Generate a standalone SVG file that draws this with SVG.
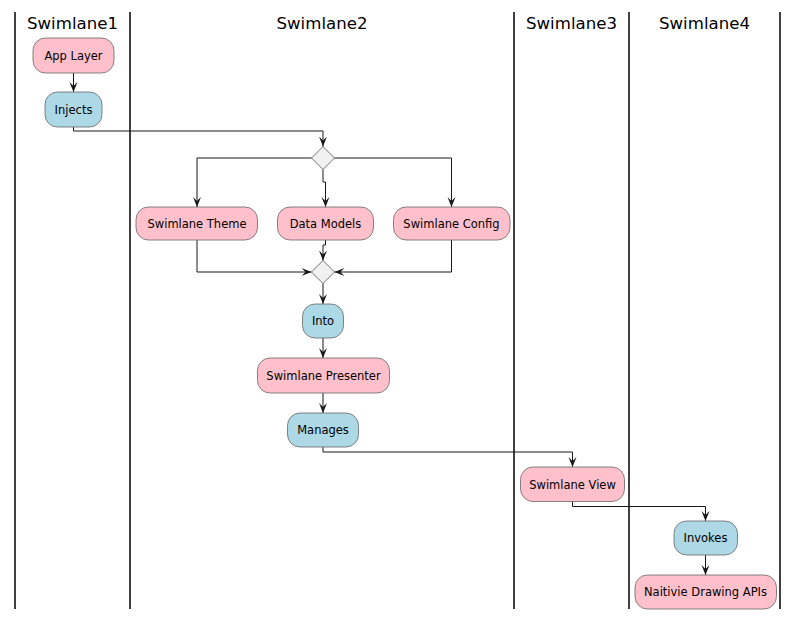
<svg xmlns="http://www.w3.org/2000/svg" width="799" height="620" viewBox="0 0 799 620">
<style>
.lane{stroke:#000;stroke-width:1.5;}
.title{font-family:"DejaVu Sans",sans-serif;font-size:16.6px;fill:#000;text-anchor:middle;}
.pink{fill:#FFC0CB;stroke:#666;stroke-width:0.8;}
.blue{fill:#ADD8E6;stroke:#666;stroke-width:0.8;}
.dia{fill:#F1F1F1;stroke:#181818;stroke-width:0.6;}
.lbl{font-family:"DejaVu Sans",sans-serif;font-size:11.5px;fill:#000;text-anchor:middle;}
.c{fill:none;stroke:#181818;stroke-width:1;marker-end:url(#ah);}
</style>
<defs>
<marker id="ah" markerWidth="12" markerHeight="10" refX="10" refY="5" orient="auto" markerUnits="userSpaceOnUse" viewBox="0 0 12 10">
<polygon points="0,1 10,5 0,9 4,5" fill="#181818"/>
</marker>
</defs>
<rect width="799" height="620" fill="#fff"/>
<g id="lanes">
<line class="lane" x1="15" y1="12" x2="15" y2="609"/>
<line class="lane" x1="130" y1="12" x2="130" y2="609"/>
<line class="lane" x1="514" y1="12" x2="514" y2="609"/>
<line class="lane" x1="629" y1="12" x2="629" y2="609"/>
<line class="lane" x1="780" y1="12" x2="780" y2="609"/>
<text class="title" x="72.5" y="29">Swimlane1</text>
<text class="title" x="322" y="29">Swimlane2</text>
<text class="title" x="571.5" y="29">Swimlane3</text>
<text class="title" x="704.5" y="29">Swimlane4</text>
</g>
<g id="connectors">
<path class="c" d="M73.5,73 V92"/>
<path class="c" d="M73.5,127 V131 H323 V146.5"/>
<path class="c" d="M311.5,158 H197 V207"/>
<path class="c" d="M323,169.5 V182 H325.5 V207"/>
<path class="c" d="M334.5,158 H451.5 V207"/>
<path class="c" d="M197,240 V272 H311.5"/>
<path class="c" d="M325.5,240 V245 H323 V260.5"/>
<path class="c" d="M451.5,240 V272 H334.5"/>
<path class="c" d="M323,283.5 V304"/>
<path class="c" d="M323,338 V358"/>
<path class="c" d="M323,393 V413"/>
<path class="c" d="M323,447 V452 H572.5 V467"/>
<path class="c" d="M572.5,501.5 V506.5 H705.5 V521"/>
<path class="c" d="M705.5,555 V575"/>
</g>
<g id="n-applayer"><rect class="pink" x="33" y="38" width="81" height="35" rx="12.5"/><text class="lbl" x="73.5" y="59.5">App Layer</text></g>
<g id="n-injects"><rect class="blue" x="45" y="92" width="57" height="35" rx="12.5"/><text class="lbl" x="73.5" y="113.5">Injects</text></g>
<g id="d-fork"><polygon class="dia" points="323,146.5 334.5,158 323,169.5 311.5,158"/></g>
<g id="n-theme"><rect class="pink" x="136" y="207" width="121.5" height="33" rx="12.5"/><text class="lbl" x="197" y="227.5">Swimlane Theme</text></g>
<g id="n-models"><rect class="pink" x="277.5" y="207" width="96" height="33" rx="12.5"/><text class="lbl" x="325.5" y="227.5">Data Models</text></g>
<g id="n-config"><rect class="pink" x="393.5" y="207" width="116.5" height="33" rx="12.5"/><text class="lbl" x="451.5" y="227.5">Swimlane Config</text></g>
<g id="d-merge"><polygon class="dia" points="323,260.5 334.5,272 323,283.5 311.5,272"/></g>
<g id="n-into"><rect class="blue" x="302.5" y="304" width="41" height="34" rx="12.5"/><text class="lbl" x="323" y="325">Into</text></g>
<g id="n-presenter"><rect class="pink" x="257.5" y="358" width="132" height="35" rx="12.5"/><text class="lbl" x="323.5" y="379.5">Swimlane Presenter</text></g>
<g id="n-manages"><rect class="blue" x="287.5" y="413" width="71" height="34" rx="12.5"/><text class="lbl" x="323" y="434">Manages</text></g>
<g id="n-view"><rect class="pink" x="520.5" y="467" width="104" height="34.5" rx="12.5"/><text class="lbl" x="572.5" y="488.5">Swimlane View</text></g>
<g id="n-invokes"><rect class="blue" x="674" y="521" width="63.5" height="34" rx="12.5"/><text class="lbl" x="705.5" y="542">Invokes</text></g>
<g id="n-native"><rect class="pink" x="635" y="575" width="141.5" height="34" rx="12.5"/><text class="lbl" x="705.5" y="596">Naitivie Drawing APIs</text></g>
</svg>
